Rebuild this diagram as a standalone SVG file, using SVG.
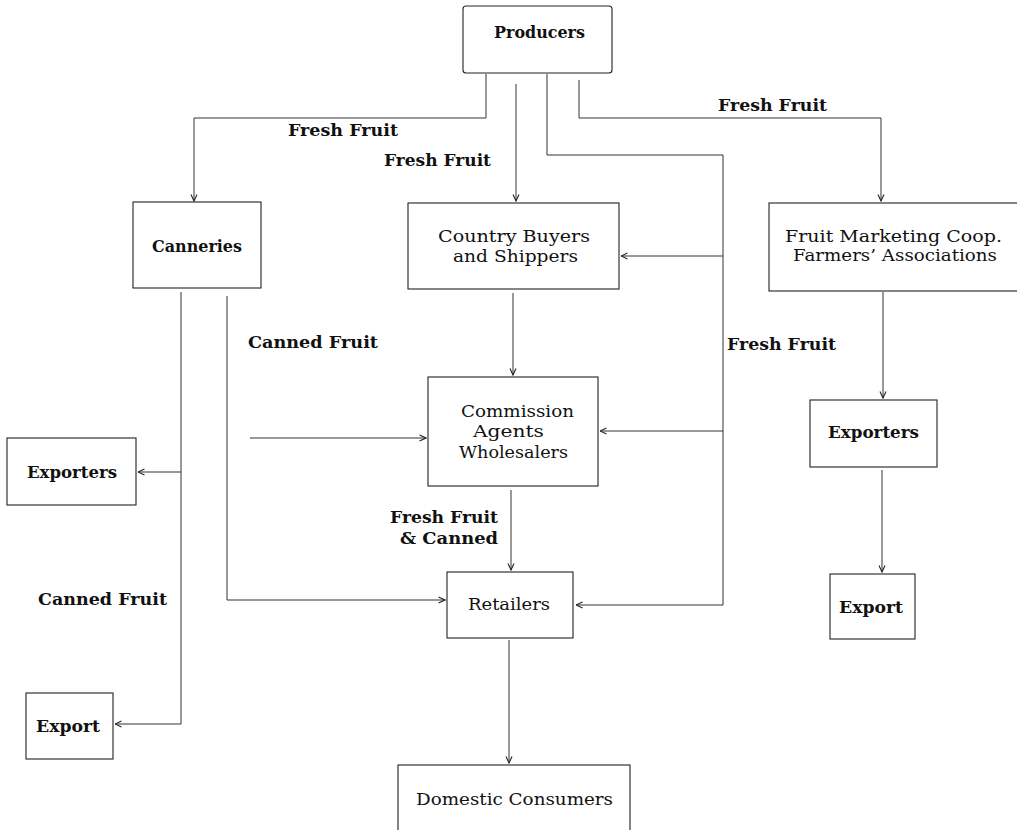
<svg xmlns="http://www.w3.org/2000/svg" width="1017" height="830" viewBox="0 0 1017 830">
<style>
.box{fill:none;stroke:#222;stroke-width:1.1}
.ln{fill:none;stroke:#333;stroke-width:1}
.ar{marker-end:url(#ah)}
text{font-family:"DejaVu Serif","Liberation Serif",serif;font-size:16px;font-weight:bold;fill:#111}
.n{font-weight:normal;font-size:17px}
</style>
<defs>
<marker id="ah" viewBox="0 0 8 8" refX="7.5" refY="4" markerWidth="8" markerHeight="8" markerUnits="userSpaceOnUse" orient="auto">
<path d="M1,1 L7.5,4 L1,7" fill="none" stroke="#222" stroke-width="1.1"/>
</marker>
</defs>
<rect width="1017" height="830" fill="#fff"/>

<g id="connectors">
<polyline class="ln ar" points="486,74 486,118 194,118 194,201"/>
<polyline class="ln ar" points="516,84 516,201"/>
<polyline class="ln ar" points="579,80 579,118 881,118 881,201"/>
<polyline class="ln ar" points="547,74 547,155 723,155 723,605 576,605"/>
<polyline class="ln ar" points="723,256 621,256"/>
<polyline class="ln ar" points="723,431 600,431"/>
<polyline class="ln ar" points="513,293 513,375"/>
<polyline class="ln ar" points="511,490 511,570"/>
<polyline class="ln ar" points="509,640 509,763"/>
<polyline class="ln ar" points="181,292 181,724 115,724"/>
<polyline class="ln ar" points="181,472 138,472"/>
<polyline class="ln ar" points="227,296 227,600 445,600"/>
<polyline class="ln ar" points="250,438 426,438"/>
<polyline class="ln ar" points="883,292 883,398"/>
<polyline class="ln ar" points="882,470 882,572"/>
</g>

<g id="labels">
<text x="288" y="136" textLength="110" lengthAdjust="spacingAndGlyphs">Fresh Fruit</text>
<text x="384" y="166" textLength="107" lengthAdjust="spacingAndGlyphs">Fresh Fruit</text>
<text x="718" y="111" textLength="109" lengthAdjust="spacingAndGlyphs">Fresh Fruit</text>
<text x="248" y="348" textLength="130" lengthAdjust="spacingAndGlyphs">Canned Fruit</text>
<text x="727" y="350" textLength="109" lengthAdjust="spacingAndGlyphs">Fresh Fruit</text>
<text x="38" y="605" textLength="129" lengthAdjust="spacingAndGlyphs">Canned Fruit</text>
<text x="390" y="523" textLength="108" lengthAdjust="spacingAndGlyphs">Fresh Fruit</text>
<text x="400" y="544" textLength="98" lengthAdjust="spacingAndGlyphs">&amp; Canned</text>
</g>

<g id="producers">
<rect class="box" x="463" y="6" width="149" height="67" rx="3"/>
<text x="494" y="38" textLength="91" lengthAdjust="spacingAndGlyphs">Producers</text>
</g>
<g id="canneries">
<rect class="box" x="133" y="202" width="128" height="86"/>
<text x="152" y="252" textLength="90" lengthAdjust="spacingAndGlyphs">Canneries</text>
</g>
<g id="country-buyers">
<rect class="box" x="408" y="203" width="211" height="86"/>
<text class="n" x="438" y="242" textLength="152" lengthAdjust="spacingAndGlyphs">Country Buyers</text>
<text class="n" x="453" y="262" textLength="125" lengthAdjust="spacingAndGlyphs">and Shippers</text>
</g>
<g id="fruit-marketing">
<rect class="box" x="769" y="203" width="250" height="88"/>
<text class="n" x="785" y="242" textLength="217" lengthAdjust="spacingAndGlyphs">Fruit Marketing Coop.</text>
<text class="n" x="793" y="261" textLength="204" lengthAdjust="spacingAndGlyphs">Farmers’ Associations</text>
</g>
<g id="commission">
<rect class="box" x="428" y="377" width="170" height="109"/>
<text class="n" x="461" y="417" textLength="113" lengthAdjust="spacingAndGlyphs">Commission</text>
<text class="n" x="473" y="437" textLength="71" lengthAdjust="spacingAndGlyphs">Agents</text>
<text class="n" x="459" y="458" textLength="109" lengthAdjust="spacingAndGlyphs">Wholesalers</text>
</g>
<g id="exporters-left">
<rect class="box" x="7" y="438" width="129" height="67"/>
<text x="27" y="478" textLength="90" lengthAdjust="spacingAndGlyphs">Exporters</text>
</g>
<g id="export-left">
<rect class="box" x="26" y="693" width="87" height="66"/>
<text x="36" y="732" textLength="64" lengthAdjust="spacingAndGlyphs">Export</text>
</g>
<g id="retailers">
<rect class="box" x="447" y="572" width="126" height="66"/>
<text class="n" x="468" y="610" textLength="82" lengthAdjust="spacingAndGlyphs">Retailers</text>
</g>
<g id="domestic-consumers">
<rect class="box" x="398" y="765" width="232" height="80"/>
<text class="n" x="416" y="805" textLength="197" lengthAdjust="spacingAndGlyphs">Domestic Consumers</text>
</g>
<g id="exporters-right">
<rect class="box" x="810" y="400" width="127" height="67"/>
<text x="828" y="438" textLength="91" lengthAdjust="spacingAndGlyphs">Exporters</text>
</g>
<g id="export-right">
<rect class="box" x="830" y="574" width="85" height="65"/>
<text x="839" y="613" textLength="64" lengthAdjust="spacingAndGlyphs">Export</text>
</g>
</svg>
